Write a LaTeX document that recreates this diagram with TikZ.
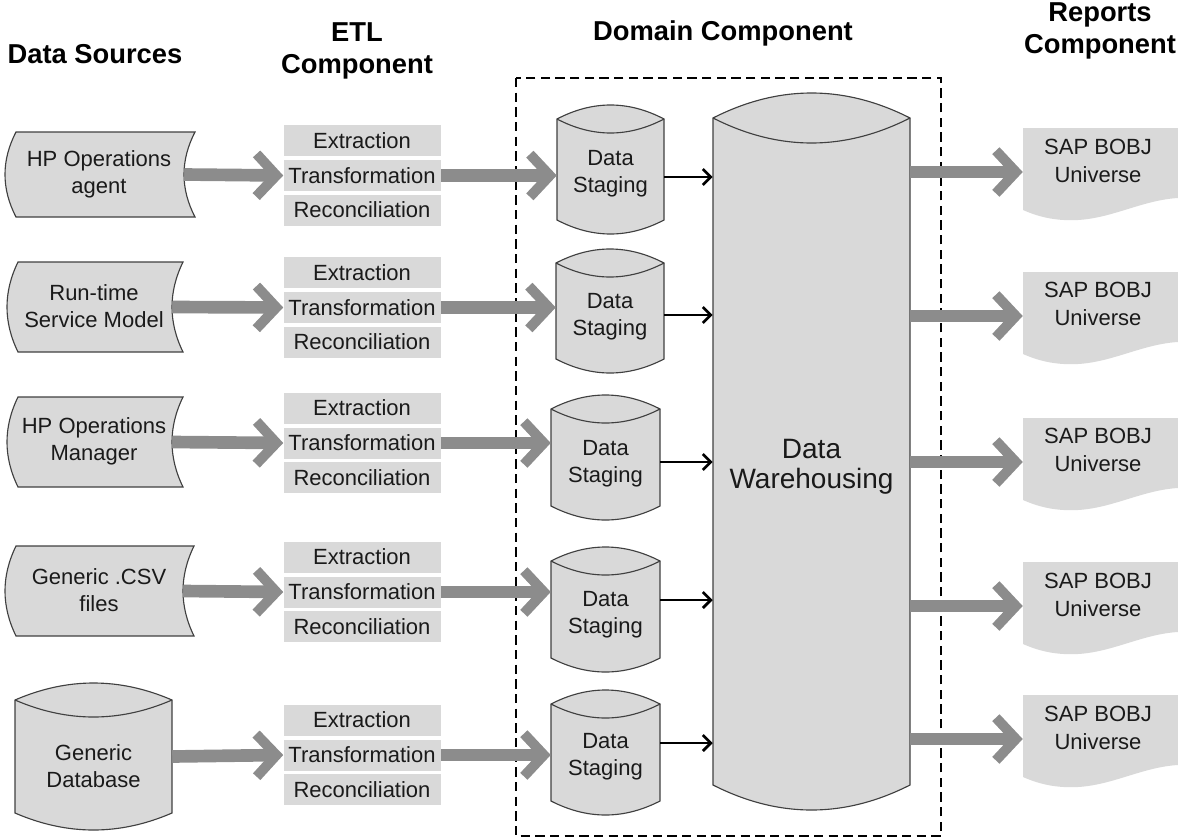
\documentclass[tikz,border=0pt]{standalone}
\usepackage{fontspec}
\setmainfont{Liberation Sans}
\usetikzlibrary{arrows.meta}
\definecolor{boxgray}{HTML}{D9D9D9}
\definecolor{arrgray}{HTML}{8C8C8C}
\definecolor{edgec}{HTML}{404040}
\definecolor{txt}{HTML}{1A1A1A}
\newcommand\drawcyl[6]{%
 \pgfmathsetmacro\cxa{#2+(#4-#2)/3}%
 \pgfmathsetmacro\cxb{#2+2*(#4-#2)/3}%
 \pgfmathsetmacro\cya{#3+#6}%
 \pgfmathsetmacro\cyb{#5-#6}%
 \pgfmathsetmacro\cyk{4*#6/3}%
 \draw[shapeline] (#2,\cya) .. controls (\cxa,\cya-\cyk) and (\cxb,\cya-\cyk) .. (#4,\cya) -- (#4,\cyb) .. controls (\cxb,\cyb+\cyk) and (\cxa,\cyb+\cyk) .. (#2,\cyb) -- cycle;
 \draw[edgeonly] (#2,\cya) .. controls (\cxa,\cya+\cyk) and (\cxb,\cya+\cyk) .. (#4,\cya);
 \node[shapenode, minimum width=(#4-#2)*0.75pt, minimum height=(#5-#3)*0.75pt] (#1) at ({(#2+#4)/2},{(#3+#5)/2}) {};
}
\newcommand\drawstore[5]{%
 \pgfmathsetmacro\sxa{#2+11}%
 \pgfmathsetmacro\sxb{#2+11-14.67}%
 \pgfmathsetmacro\sxc{#4-14.67}%
 \pgfmathsetmacro\sya{#3+(#5-#3)/3}%
 \pgfmathsetmacro\syb{#3+2*(#5-#3)/3}%
 \draw[shapeline] (\sxa,#3) -- (#4,#3) .. controls (\sxc,\sya) and (\sxc,\syb) .. (#4,#5) -- (\sxa,#5) .. controls (\sxb,\syb) and (\sxb,\sya) .. (\sxa,#3) -- cycle;
 \node[shapenode, minimum width=(#4-#2-11)*0.75pt, minimum height=(#5-#3)*0.75pt] (#1) at ({(#2+#4-11)/2},{(#3+#5)/2}) {};
}
\newcommand\drawdoc[4]{%
 \fill[boxgray] (#2,#3) -- (#4,#3) -- (#4,#3+70) .. controls (#4-35,#3+72) and (#2+90,#3+90) .. (#2+55,#3+92) .. controls (#2+35,#3+93) and (#2+18,#3+90) .. (#2,#3+82) -- cycle;
 \node[shapenode, minimum width=(#4-#2)*0.75pt, minimum height=88*0.75pt] (#1) at ({(#2+#4)/2},{#3+44}) {};
}
\begin{document}
\begin{tikzpicture}[x=0.75pt,y=-0.75pt,
 shapeline/.style={draw=edgec, line width=0.85pt, fill=boxgray},
 edgeonly/.style={draw=edgec, line width=0.85pt},
 shapenode/.style={draw=none, inner sep=0pt},
 etl/.style={fill=boxgray, minimum width=157*0.75pt, minimum height=31*0.75pt, inner sep=0pt, font=\fontsize{16.5}{19}\selectfont, text=txt},
 lbl/.style={font=\fontsize{16.5}{20.5}\selectfont, text=txt, align=center, inner sep=0pt},
 biglbl/.style={font=\fontsize{21}{22.5}\selectfont, text=txt, align=center, inner sep=0pt},
 hdr/.style={font=\bfseries\fontsize{20.5}{24}\selectfont, align=center, text=black, inner sep=0pt},
 bigarrow/.style={draw=arrgray, line width=9.5pt, -{Straight Barb[length=15pt,width=32pt,line width=7.5pt,line cap=butt,line join=miter]}},
 smallarrow/.style={draw=black, line width=2pt, -{Straight Barb[length=6pt,width=12pt]}},
 domainbox/.style={draw=black, line width=1.1pt, dash pattern=on 7pt off 4pt}
]
\useasboundingbox (0,0) rectangle (1178,839);

% headers
\node[hdr] (h1) at (95,54) {Data Sources};
\node[hdr] (h2) at (357,51) {ETL\\Component};
\node[hdr] (h3) at (723,33) {Domain Component};
\node[hdr] (h4) at (1100,31) {Reports\\Component};

% domain box
\draw[domainbox] (516,78) rectangle (941,836);

% sources
\drawstore{s1}{5}{132}{195}{217}
\node[lbl] (s1t) at (99,174) {HP Operations\\agent};
\drawstore{s2}{7}{262}{183}{352}
\node[lbl] (s2t) at (94,306) {Run-time\\Service Model};
\drawstore{s3}{7}{397}{183}{487}
\node[lbl] (s3t) at (94,441) {HP Operations\\Manager};
\drawstore{s4}{5}{546}{194}{636}
\node[lbl] (s4t) at (99,590) {Generic .CSV\\files};
\drawcyl{s5}{15}{683}{172}{830}{17}
\node[lbl] (s5t) at (93.5,766) {Generic\\Database};

% ETL
\foreach \r/\y in {1/175.5,2/307.5,3/443,4/592,5/755}{
 \node[etl] (x\r) at (362,\y-35) {Extraction};
 \node[etl] (t\r) at (362,\y) {Transformation};
 \node[etl] (c\r) at (362,\y+34.5) {Reconciliation};
}

% staging
\drawcyl{d1}{557}{105}{664}{234}{14}
\drawcyl{d2}{556}{249}{664}{373}{14}
\drawcyl{d3}{551}{395}{660}{520}{14}
\drawcyl{d4}{551}{547}{660}{672}{14}
\drawcyl{d5}{551}{690}{660}{815}{14}
\foreach \r/\x/\y in {1/610.5/174,2/610/317,3/605.5/464,4/605.5/615,5/605.5/757}{
 \node[lbl] (d\r t) at (\x,\y) {Data\\Staging};
}

% warehouse
\drawcyl{wh}{713}{93}{910}{810}{25}
\node[biglbl] (wht) at (811.5,467) {Data\\Warehousing};

% reports
\foreach \r/\y/\ty in {1/128/161,2/272/304,3/418/450,4/562/595,5/695/728}{
 \drawdoc{r\r}{1023}{\y}{1178}
 \node[lbl] (r\r t) at (1098,\ty) {SAP BOBJ\\Universe};
}

% arrows
\foreach \r in {1,...,5}{
 \draw[bigarrow] (s\r.east) -- (t\r.west);
 \draw[bigarrow] (t\r.east) -- (t\r.east -| d\r.west);
 \draw[bigarrow] (wh.east |- r\r.west) -- (r\r.west);
}
\foreach \r/\dy in {1/7.5,2/4,3/4.5,4/-9.5,5/-9.5}{
 \draw[smallarrow] ([yshift=-\dy*0.75pt]d\r.east) -- ([yshift=-\dy*0.75pt]d\r.east -| wh.west);
}
\end{tikzpicture}
\end{document}
